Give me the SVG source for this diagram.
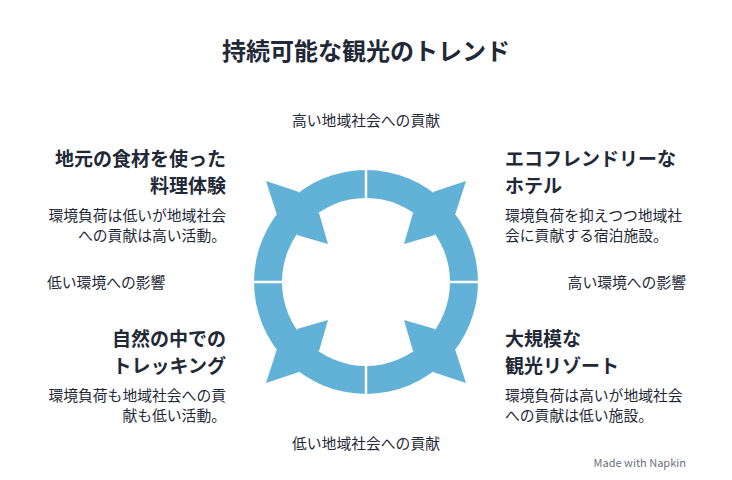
<svg xmlns="http://www.w3.org/2000/svg" width="732" height="480" viewBox="0 0 732 480">
<style>
text{font-family:"Noto Sans CJK JP","Noto Sans",sans-serif;fill:#1f2937}
.t{font-size:24px;font-weight:bold}
.h{font-size:19px;font-weight:bold}
.b{font-size:14.8px}
.a{font-size:14.8px}
.blue{fill:#62b1d7}
</style>
<rect width="732" height="480" fill="#fff"/>
<text class="t" x="366" y="60" text-anchor="middle">持続可能な観光のトレンド</text>
<g id="ring" transform="translate(366,282)">
<path class="blue" fill-rule="evenodd" d="M-112,0A112,112 0 1,0 112,0A112,112 0 1,0 -112,0ZM-84,0A84,84 0 1,0 84,0A84,84 0 1,0 -84,0Z"/>
<g id="barbs">
<polygon class="blue" points="-67,-90 -100,-101 -89,-67 -75,-75"/>
<polygon class="blue" points="-47,-69 -38,-38 -69,-47 -64,-64"/>
</g>
<use href="#barbs" transform="scale(-1,1)"/>
<use href="#barbs" transform="scale(1,-1)"/>
<use href="#barbs" transform="scale(-1,-1)"/>
<g stroke="#fff" stroke-width="2.5">
<line x1="0" y1="-115" x2="0" y2="115"/>
<line x1="-115" y1="0" x2="115" y2="0"/>
</g>
</g>
<g id="axes">
<text class="a" x="366" y="126" text-anchor="middle">高い地域社会への貢献</text>
<text class="a" x="366" y="449" text-anchor="middle">低い地域社会への貢献</text>
<text class="a" x="47" y="288">低い環境への影響</text>
<text class="a" x="686" y="288" text-anchor="end">高い環境への影響</text>
</g>
<g id="n1" text-anchor="end">
<text class="h" x="226" y="166">地元の食材を使った</text>
<text class="h" x="226" y="193">料理体験</text>
<text class="b" x="226" y="221">環境負荷は低いが地域社会</text>
<text class="b" x="226" y="241">への貢献は高い活動。</text>
</g>
<g id="n2">
<text class="h" x="505" y="166">エコフレンドリーな</text>
<text class="h" x="505" y="193">ホテル</text>
<text class="b" x="505" y="221">環境負荷を抑えつつ地域社</text>
<text class="b" x="505" y="241">会に貢献する宿泊施設。</text>
</g>
<g id="n3" text-anchor="end">
<text class="h" x="226" y="346">自然の中での</text>
<text class="h" x="226" y="373">トレッキング</text>
<text class="b" x="226" y="401">環境負荷も地域社会への貢</text>
<text class="b" x="226" y="421">献も低い活動。</text>
</g>
<g id="n4">
<text class="h" x="505" y="346">大規模な</text>
<text class="h" x="505" y="373">観光リゾート</text>
<text class="b" x="505" y="401">環境負荷は高いが地域社会</text>
<text class="b" x="505" y="421">への貢献は低い施設。</text>
</g>
<text x="686" y="467" text-anchor="end" style="font-size:11px;fill:#6b7280">Made with Napkin</text>
</svg>
